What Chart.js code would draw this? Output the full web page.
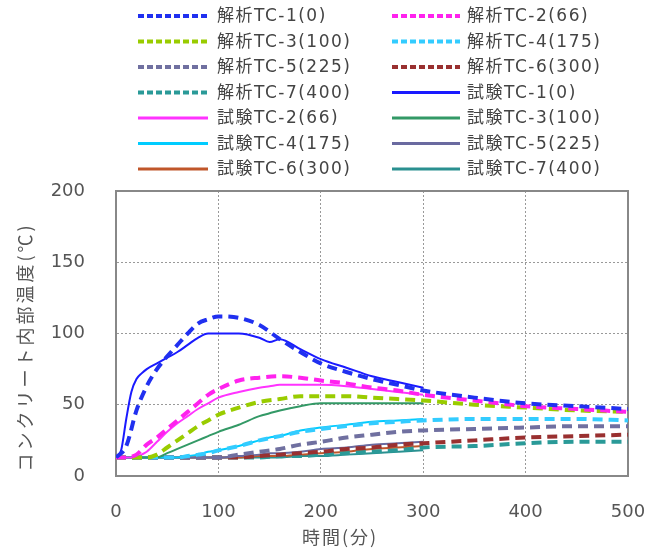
<!DOCTYPE html>
<html>
<head>
<meta charset="utf-8">
<script src="https://cdn.jsdelivr.net/npm/chart.js@4.4.1/dist/chart.umd.min.js"></script>
<style>
  html, body { margin: 0; padding: 0; background: #fff; }
  canvas { display: block; }
</style>
</head>
<body>
<canvas id="tempChart" width="664" height="551"></canvas>
<script>
// ================== DATA ==================
const analysisTime = [0, 10, 20, 30, 40, 50, 60, 70, 80, 90, 100, 120, 140, 160, 180, 200, 225, 250, 275, 300, 350, 400, 450, 500];
const testTime = [0, 5, 10, 15, 20, 25, 30, 40, 50, 60, 70, 80, 90, 100, 120, 140, 150, 160, 180, 200, 225, 250, 275, 300];

const analysisTC1 = [13, 21, 46, 63, 75, 84, 92, 100, 107, 110, 112, 111, 106, 96, 87, 79, 73, 68, 64, 60, 55, 51, 49, 47];
const analysisTC2 = [13, 13, 15, 22, 27, 33, 39, 45, 51, 57, 61, 67, 69, 70, 69, 67, 65, 62, 60, 57, 53, 49, 47, 45];
const analysisTC3 = [13, 13, 13, 13, 15, 20, 25, 30, 35, 39, 43, 48, 52, 54, 56, 56, 56, 55, 54, 53, 50, 48, 46, 45];
const analysisTC4 = [13, 13, 13, 13, 13, 13, 13, 14, 15, 16, 18, 21, 25, 28, 31, 33, 35, 37, 38, 39, 40, 40, 40, 39];
const analysisTC5 = [13, 13, 13, 13, 13, 13, 13, 13, 13, 13, 13, 15, 17, 19, 22, 24, 27, 29, 31, 32, 33, 34, 35, 35];
const analysisTC6 = [13, 13, 13, 13, 13, 13, 13, 13, 13, 13, 13, 13, 14, 15, 16, 17, 19, 20, 22, 23, 25, 27, 28, 29];
const analysisTC7 = [13, 13, 13, 13, 13, 13, 13, 13, 13, 13, 13, 13, 13, 14, 14, 15, 16, 17, 18, 20, 21, 23, 24, 24];

const testTC1 = [13, 18, 40, 59, 68, 72, 75, 79, 83, 87, 92, 97, 100, 100, 100, 97, 94, 96, 89, 82, 76, 70, 66, 62];
const testTC2 = [13, 13, 13, 13, 13, 15, 17, 24, 31, 37, 42, 47, 51, 55, 59, 62, 63, 64, 64, 64, 63, 61, 59, 57];
const testTC3 = [13, 13, 13, 13, 13, 13, 13, 13, 16, 19, 22, 25, 28, 31, 36, 42, 44, 46, 49, 51, 51, 51, 51, 51];
const testTC4 = [13, 13, 13, 13, 13, 13, 13, 13, 13, 13, 14, 15, 17, 18, 21, 25, 27, 28, 32, 34, 36, 38, 39, 40];
const testTC5 = [13, 13, 13, 13, 13, 13, 13, 13, 13, 13, 13, 13, 13, 13, 14, 15, 16, 16, 17, 19, 20, 22, 23, 24];
const testTC6 = [13, 13, 13, 13, 13, 13, 13, 13, 13, 13, 13, 13, 13, 13, 13, 14, 14, 14, 15, 16, 17, 19, 20, 21];
const testTC7 = [13, 13, 13, 13, 13, 13, 13, 13, 13, 13, 13, 13, 13, 13, 13, 13, 13, 13, 14, 14, 15, 16, 17, 18];

const seriesNames = [
  "解析TC-1(0)", "解析TC-2(66)", "解析TC-3(100)", "解析TC-4(175)",
  "解析TC-5(225)", "解析TC-6(300)", "解析TC-7(400)",
  "試験TC-1(0)", "試験TC-2(66)", "試験TC-3(100)", "試験TC-4(175)",
  "試験TC-5(225)", "試験TC-6(300)", "試験TC-7(400)",
];
const xTicks = [0, 100, 200, 300, 400, 500];
const yTicks = [0, 50, 100, 150, 200];
const xTitle = "時間(分)";
const yTitle = "コンクリート内部温度(℃)";

// ================== STYLE ==================
const analysisColors = ["#2030f0", "#ff22ee", "#99cc00", "#33ccff", "#7070a0", "#993030", "#2a9a98"];
const testColors = ["#1a1aff", "#ff33ff", "#339966", "#00ccff", "#6a6aa0", "#c0562a", "#2a9090"];
const tickFont = { family: "'DejaVu Sans', sans-serif", size: 18 };

function toPoints(times, values) {
  return times.map((t, i) => ({ x: t, y: values[i] }));
}

const analysisSets = [analysisTC1, analysisTC2, analysisTC3, analysisTC4, analysisTC5, analysisTC6, analysisTC7];
const testSets = [testTC1, testTC2, testTC3, testTC4, testTC5, testTC6, testTC7];

const datasets = [];
analysisSets.forEach((vals, i) => {
  datasets.push({
    label: seriesNames[i],
    data: toPoints(analysisTime, vals),
    borderColor: analysisColors[i],
    borderWidth: 4,
    borderDash: [10, 6],
    pointRadius: 0,
    cubicInterpolationMode: "monotone",
    fill: false,
  });
});
testSets.forEach((vals, i) => {
  datasets.push({
    label: seriesNames[7 + i],
    data: toPoints(testTime, vals),
    borderColor: testColors[i],
    borderWidth: 2,
    pointRadius: 0,
    cubicInterpolationMode: "monotone",
    fill: false,
  });
});

// ================== PLUGINS ==================
// frame on top/right + axis titles
const framePlugin = {
  id: "frame",
  beforeDatasetsDraw(chart) {
    const { ctx, chartArea: a } = chart;
    ctx.save();
    ctx.strokeStyle = "#888";
    ctx.lineWidth = 2;
    ctx.strokeRect(a.left, a.top, a.right - a.left, a.bottom - a.top);
    ctx.restore();
  },
  afterDraw(chart) {
    const { ctx } = chart;
    ctx.save();
    ctx.fillStyle = "#555";
    ctx.font = "18px 'Noto Sans CJK JP', sans-serif";
    ctx.letterSpacing = "2px";
    ctx.textAlign = "center";
    ctx.textBaseline = "middle";
    ctx.fillText(xTitle, 340, 537);
    ctx.translate(25, 347);
    ctx.rotate(-Math.PI / 2);
    ctx.letterSpacing = "3px";
    ctx.fillText(yTitle, 0, 0);
    ctx.restore();
  },
};

// two-column legend over the plot
const legendPlugin = {
  id: "twoColLegend",
  afterDraw(chart) {
    const { ctx } = chart;
    const cols = [
      { x0: 138, x1: 208, tx: 217 },
      { x0: 392, x1: 460, tx: 467 },
    ];
    ctx.save();
    ctx.font = "17px 'DejaVu Sans', 'Noto Sans CJK JP', sans-serif";
    ctx.letterSpacing = "1.5px";
    ctx.textBaseline = "middle";
    chart.data.datasets.forEach((ds, i) => {
      const c = cols[i % 2];
      const y = 16 + Math.floor(i / 2) * 25.5;
      ctx.strokeStyle = ds.borderColor;
      ctx.lineWidth = ds.borderDash ? 4 : 3;
      ctx.setLineDash(ds.borderDash ? [6, 3] : []);
      ctx.beginPath();
      ctx.moveTo(c.x0, y);
      ctx.lineTo(c.x1, y);
      ctx.stroke();
      ctx.fillStyle = "#444";
      ctx.fillText(ds.label, c.tx, y + 1);
    });
    ctx.restore();
  },
};

// ================== CHART ==================
const ctx = document.getElementById("tempChart").getContext("2d");

const tempChart = new Chart(ctx, {
  type: "line",
  data: { datasets },
  options: {
    responsive: false,
    animation: false,
    layout: { autoPadding: false, padding: { top: 191, right: 36, left: 0, bottom: 0 } },
    scales: {
      x: {
        type: "linear",
        min: xTicks[0],
        max: xTicks[xTicks.length - 1],
        afterFit: (s) => { s.height = 75; s.paddingLeft = 0; s.paddingRight = 0; },
        afterBuildTicks: (s) => { s.ticks = xTicks.map((v) => ({ value: v })); },
        grid: { color: "#999", drawTicks: false },
        border: { color: "#888", width: 2, dash: [2, 2] },
        ticks: { font: tickFont, color: "#555", padding: 26, maxRotation: 0 },
      },
      y: {
        min: yTicks[0],
        max: yTicks[yTicks.length - 1],
        afterFit: (s) => { s.width = 116; s.paddingTop = 0; s.paddingBottom = 0; },
        afterBuildTicks: (s) => { s.ticks = yTicks.map((v) => ({ value: v })); },
        grid: { color: "#999", drawTicks: false },
        border: { color: "#888", width: 2, dash: [2, 2] },
        ticks: { font: tickFont, color: "#555", padding: 31 },
      },
    },
    plugins: {
      legend: { display: false },
      tooltip: { enabled: false },
    },
  },
  plugins: [framePlugin, legendPlugin],
});
</script>
</body>
</html>
